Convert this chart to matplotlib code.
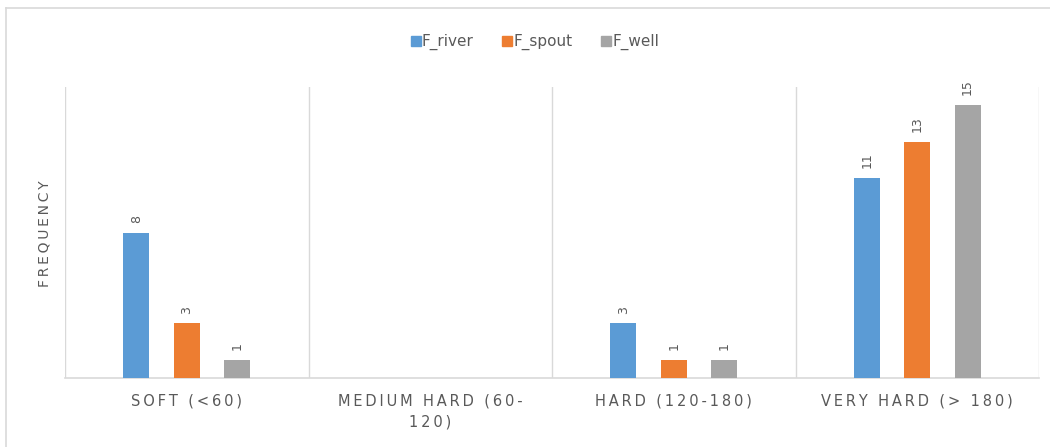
import numpy as np
import matplotlib
matplotlib.use("Agg")
import matplotlib.pyplot as plt
from matplotlib.lines import Line2D

# Dane: liczebność próbek w klasach twardości wody
categories = ["SOFT (<60)", "MEDIUM HARD (60-\n120)", "HARD (120-180)", "VERY HARD (> 180)"]
series_names = ["F_river", "F_spout", "F_well"]
f_river = [8, np.nan, 3, 11]
f_spout = [3, np.nan, 1, 13]
f_well = [1, np.nan, 1, 15]
colors = ["#5B9BD5", "#ED7D31", "#A5A5A5"]

TEXT_GRAY = "#595959"
LINE_GRAY = "#D9D9D9"


def spaced(txt, sep="\u2009"):
    # rozstrzelenie liter jak w osiach Excela
    return "\n".join(sep.join(line) for line in txt.split("\n"))


fig = plt.figure(figsize=(10.5, 4.47), dpi=100)
ax = fig.add_axes([65 / 1050, 1 - 378 / 447, 974 / 1050, 291 / 447])

x = np.arange(len(categories))
step = 0.207
width = 0.107
for i, (name, vals, col) in enumerate(zip(series_names, [f_river, f_spout, f_well], colors)):
    pos = x + (i - 1) * step
    bars = ax.bar(pos, vals, width=width, color=col, label=name, zorder=3)
    for b, v in zip(bars, vals):
        if np.isnan(v):
            continue
        ax.annotate(f"{int(v)}", (b.get_x() + b.get_width() / 2, v),
                    xytext=(0, 7), textcoords="offset points",
                    ha="center", va="bottom", rotation=90,
                    fontsize=9, color=TEXT_GRAY)

ax.set_xlim(-0.5, len(categories) - 0.5)
ax.set_ylim(0, 16)

# pionowe linie oddzielające kategorie
for xv in np.arange(-0.5, len(categories), 1.0):
    ax.axvline(xv, color=LINE_GRAY, linewidth=1, zorder=1)

for s in ["top", "left", "right"]:
    ax.spines[s].set_visible(False)
ax.spines["bottom"].set_color(LINE_GRAY)
ax.spines["bottom"].set_linewidth(1.2)

ax.set_yticks([])
ax.set_xticks(x)
ax.set_xticklabels([spaced(c) for c in categories], fontsize=10.5,
                   color=TEXT_GRAY, linespacing=1.55)
ax.tick_params(axis="x", length=0, pad=11)

fig.text(45 / 1050, 1 - 234 / 447, spaced("FREQUENCY"), rotation=90,
         ha="center", va="center", fontsize=10, color=TEXT_GRAY)

handles = [Line2D([], [], marker="s", linestyle="none", markersize=7,
                  markerfacecolor=c, markeredgecolor=c) for c in colors]
fig.legend(handles, series_names, loc="center", bbox_to_anchor=(535 / 1050, 1 - 42 / 447),
           ncol=3, frameon=False, fontsize=11, labelcolor=TEXT_GRAY,
           handletextpad=0.1, columnspacing=1.9, handlelength=0.6)

# ramka wykresu
fig.add_artist(Line2D([6 / 1050, 6 / 1050], [0, 1 - 8 / 447], color=LINE_GRAY, linewidth=1.2))
fig.add_artist(Line2D([6 / 1050, 1], [1 - 8 / 447, 1 - 8 / 447], color=LINE_GRAY, linewidth=1.2))

fig.savefig("out.png", dpi=100, facecolor="white")
